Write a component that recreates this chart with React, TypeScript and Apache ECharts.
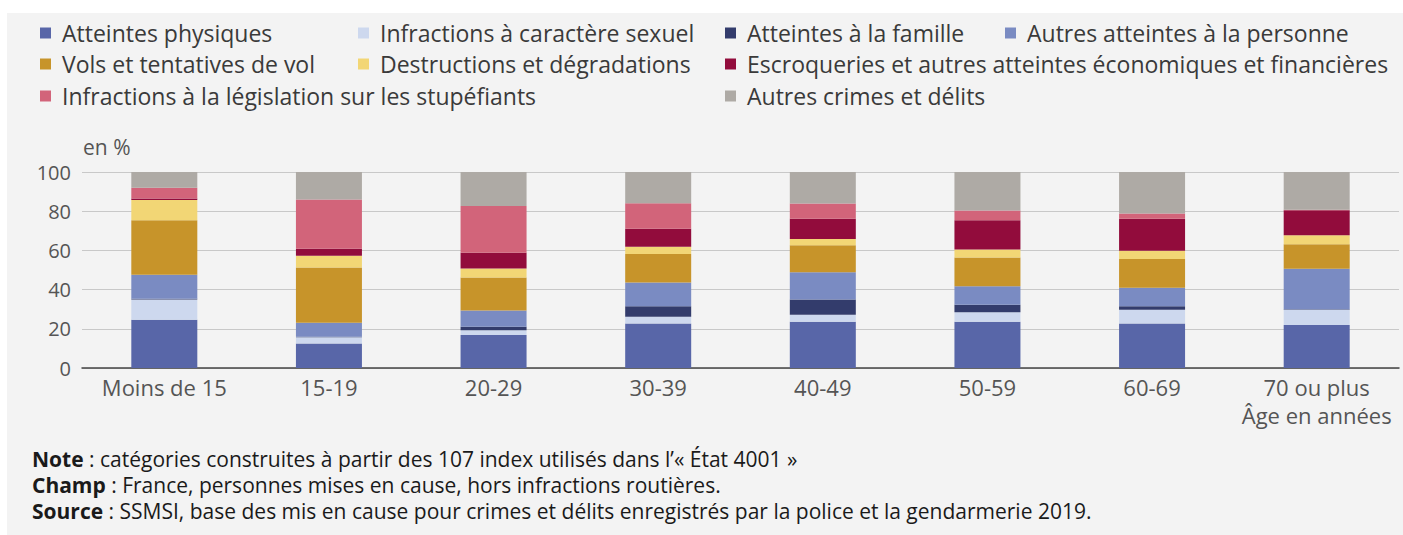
import React, { useEffect, useRef } from "react";
import * as echarts from "echarts";

const categories = ["Moins de 15", "15-19", "20-29", "30-39", "40-49", "50-59", "60-69", "70 ou plus\nÂge en années"];

const seriesNames = [
  "Atteintes physiques",
  "Infractions à caractère sexuel",
  "Atteintes à la famille",
  "Autres atteintes à la personne",
  "Vols et tentatives de vol",
  "Destructions et dégradations",
  "Escroqueries et autres atteintes économiques et financières",
  "Infractions à la législation sur les stupéfiants",
  "Autres crimes et délits",
];

const atteintesPhysiques = [24.6, 12.5, 16.8, 22.7, 23.6, 23.6, 22.7, 21.9];
const infractionsSexuelles = [10.4, 3.2, 2.5, 3.5, 3.6, 4.8, 7.0, 7.8];
const atteintesFamille = [0.3, 0.2, 1.7, 5.3, 7.7, 3.9, 1.8, 0.3];
const autresAtteintesPersonne = [12.3, 7.2, 8.4, 12.1, 14.0, 9.4, 9.4, 20.6];
const vols = [27.8, 28.2, 16.8, 14.5, 13.7, 14.7, 14.7, 12.6];
const destructions = [10.3, 6.0, 4.6, 3.8, 3.2, 4.1, 4.2, 4.5];
const escroqueries = [0.8, 3.6, 8.0, 9.2, 10.4, 14.9, 16.4, 12.8];
const stupefiants = [5.5, 25.1, 23.9, 13.0, 7.7, 4.9, 2.6, 0.3];
const autresCrimes = [8.0, 14.0, 17.3, 15.9, 16.1, 19.7, 21.2, 19.2];

const seriesValues = [
  atteintesPhysiques,
  infractionsSexuelles,
  atteintesFamille,
  autresAtteintesPersonne,
  vols,
  destructions,
  escroqueries,
  stupefiants,
  autresCrimes,
];

const colors = ["#5866a8", "#cdd8ee", "#333c6c", "#7a8bc2", "#c7942a", "#f2d675", "#920c3c", "#d2647a", "#aeaaa5"];

const yTicks = { min: 0, max: 100, interval: 20 };

// legend layout: [seriesIndex, left, top]
const legendLayout: [number, number, number][] = [
  [0, 33, 7],
  [1, 351, 7],
  [2, 718, 7],
  [3, 998, 7],
  [4, 33, 38],
  [5, 351, 38],
  [6, 718, 38],
  [7, 33, 70],
  [8, 718, 70],
];

const notes: [string, string][] = [
  ["Note", " : catégories construites à partir des 107 index utilisés dans l’« État 4001 »"],
  ["Champ", " : France, personnes mises en cause, hors infractions routières."],
  ["Source", " : SSMSI, base des mis en cause pour crimes et délits enregistrés par la police et la gendarmerie 2019."],
];

const FONT = "'Open Sans', 'Noto Sans', sans-serif";

export default function App() {
  const ref = useRef<HTMLDivElement>(null);
  useEffect(() => {
    if (!ref.current) return;
    const chart = echarts.init(ref.current, undefined, { renderer: "svg" });
    const option: any = {
      animation: false,
      backgroundColor: "#f3f3f3",
      textStyle: { fontFamily: FONT },
      legend: legendLayout.map(([i, left, top]) => ({
        left,
        top,
        data: [{ name: seriesNames[i], icon: "rect" }],
        itemWidth: 11,
        itemHeight: 11,
        itemGap: 0,
        padding: 0,
        selectedMode: false,
        textStyle: { fontFamily: FONT, fontSize: 23, color: "#3a3a3a", padding: [0, 0, 0, 6], lineHeight: 26 },
      })),
      grid: { left: 75, right: 4, top: 159, bottom: 167, containLabel: false },
      xAxis: {
        type: "category",
        data: categories,
        axisLine: { show: true, lineStyle: { color: "#444", width: 1.5 } },
        axisTick: { show: false },
        axisLabel: { fontFamily: FONT, fontSize: 22, color: "#555", margin: 5, lineHeight: 28, interval: 0 },
      },
      yAxis: {
        type: "value",
        min: yTicks.min,
        max: yTicks.max,
        interval: yTicks.interval,
        axisLine: { show: false },
        axisTick: { show: false },
        splitLine: { lineStyle: { color: "#c8c8c8", width: 1 } },
        axisLabel: { fontFamily: FONT, fontSize: 20, color: "#555", margin: 11 },
      },
      graphic: [
        {
          type: "text",
          left: 76,
          top: 123,
          style: { text: "en %", fontFamily: FONT, fontSize: 21, fill: "#555" },
        },
        ...notes.map(([bold, rest], k) => ({
          type: "text",
          left: 25,
          top: 435 + k * 26,
          style: {
            text: `{b|${bold}}{r|${rest}}`,
            rich: {
              b: { fontFamily: FONT, fontSize: 21, fontWeight: "bold", fill: "#1a1a1a", lineHeight: 26 },
              r: { fontFamily: FONT, fontSize: 21, fill: "#1a1a1a", lineHeight: 26 },
            },
          },
        })),
      ],
      series: seriesNames.map((name, i) => ({
        name,
        type: "bar",
        stack: "total",
        barWidth: 66,
        itemStyle: { color: colors[i] },
        emphasis: { disabled: true },
        data: seriesValues[i],
      })),
    };
    chart.setOption(option);
    return () => chart.dispose();
  }, []);
  return (
    <div
      ref={ref}
      style={{ position: "fixed", left: 7, top: 13, width: 1396, height: 522 }}
    />
  );
}
